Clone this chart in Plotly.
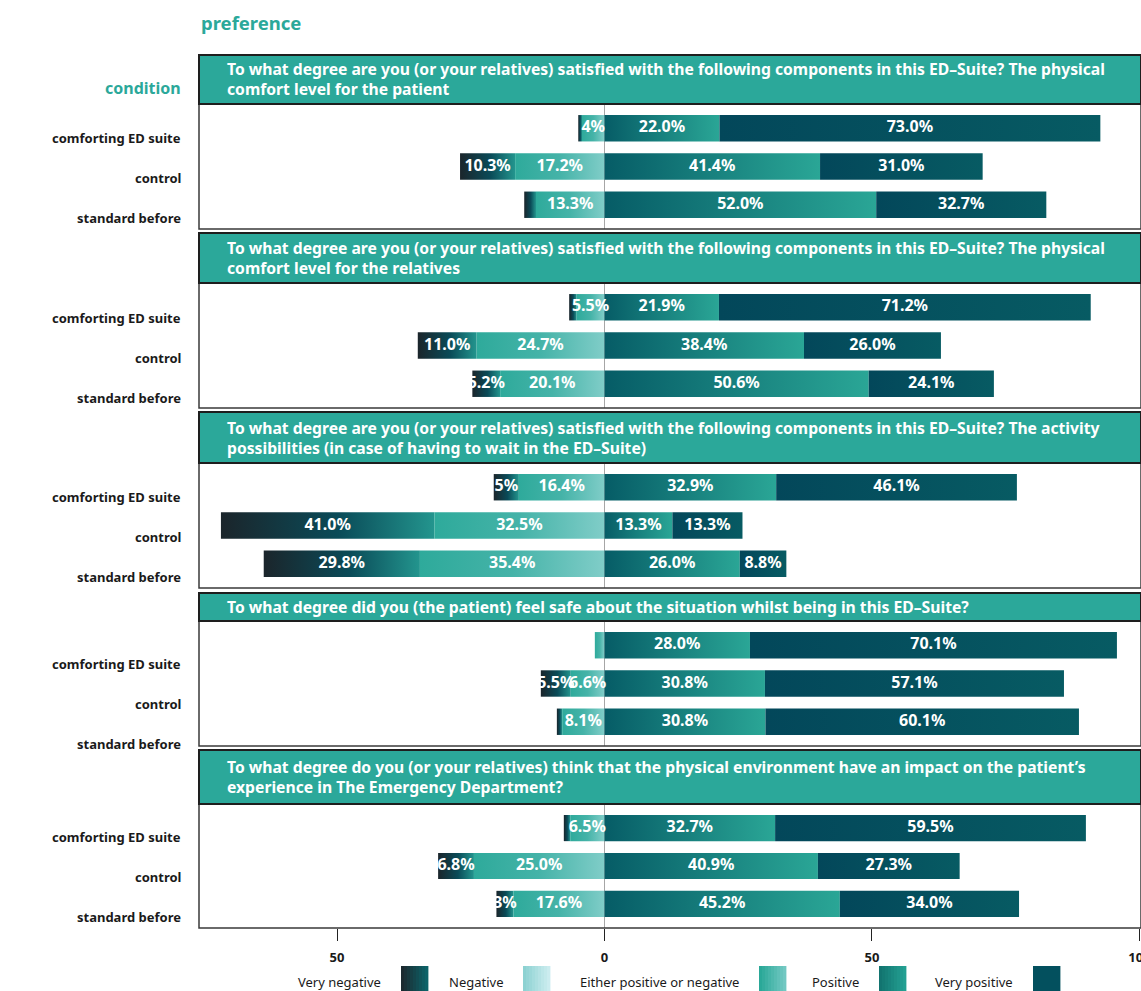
import plotly.graph_objects as go

W, H = 1141, 991
L_MARGIN = 199

# ---------------- data ----------------
categories = ["comforting ED suite", "control", "standard before"]
responses = ["Very negative", "Negative", "Either positive or negative", "Positive", "Very positive"]

questions = [
    "To what degree are you (or your relatives) satisfied with the following components in this ED–Suite? The physical<br>comfort level for the patient",
    "To what degree are you (or your relatives) satisfied with the following components in this ED–Suite? The physical<br>comfort level for the relatives",
    "To what degree are you (or your relatives) satisfied with the following components in this ED–Suite? The activity<br>possibilities (in case of having to wait in the ED–Suite)",
    "To what degree did you (the patient) feel safe about the situation whilst being in this ED–Suite?",
    "To what degree do you (or your relatives) think that the physical environment have an impact on the patient’s<br>experience in The Emergency Department?",
]

# bar lengths per condition (axis units)
q1_very_negative = [0.7, 10.3, 2.2]
q1_negative = [4.2, 16.7, 12.8]
q1_positive = [21.5, 40.3, 50.8]
q1_very_positive = [71.2, 30.4, 31.8]

q2_very_negative = [1.4, 11.0, 5.2]
q2_negative = [5.2, 23.9, 19.5]
q2_positive = [21.4, 37.3, 49.4]
q2_very_positive = [69.5, 25.6, 23.4]

q3_very_negative = [4.7, 39.9, 29.2]
q3_negative = [16.0, 31.8, 34.5]
q3_positive = [32.1, 12.7, 25.3]
q3_very_positive = [45.0, 13.1, 8.7]

q4_very_negative = [0.0, 5.6, 1.0]
q4_negative = [1.8, 6.3, 7.9]
q4_positive = [27.2, 30.0, 30.1]
q4_very_positive = [68.6, 55.9, 58.6]

q5_very_negative = [1.2, 6.7, 3.2]
q5_negative = [6.4, 24.4, 17.0]
q5_positive = [31.9, 39.9, 44.0]
q5_very_positive = [58.1, 26.5, 33.5]

# printed labels per condition: [very negative, negative, positive, very positive]
q1_labels = [["", "4%", "22.0%", "73.0%"], ["10.3%", "17.2%", "41.4%", "31.0%"], ["", "13.3%", "52.0%", "32.7%"]]
q2_labels = [["", "5.5%", "21.9%", "71.2%"], ["11.0%", "24.7%", "38.4%", "26.0%"], ["5.2%", "20.1%", "50.6%", "24.1%"]]
q3_labels = [["5%", "16.4%", "32.9%", "46.1%"], ["41.0%", "32.5%", "13.3%", "13.3%"], ["29.8%", "35.4%", "26.0%", "8.8%"]]
q4_labels = [["", "", "28.0%", "70.1%"], ["5.5%", "6.6%", "30.8%", "57.1%"], ["", "8.1%", "30.8%", "60.1%"]]
q5_labels = [["", "6.5%", "32.7%", "59.5%"], ["6.8%", "25.0%", "40.9%", "27.3%"], ["3%", "17.6%", "45.2%", "34.0%"]]

x_tickvals = [-50, 0, 50, 100]
x_ticktext = ["50", "0", "50", "100"]

panel_data = [
    (q1_very_negative, q1_negative, q1_positive, q1_very_positive, q1_labels),
    (q2_very_negative, q2_negative, q2_positive, q2_very_positive, q2_labels),
    (q3_very_negative, q3_negative, q3_positive, q3_very_positive, q3_labels),
    (q4_very_negative, q4_negative, q4_positive, q4_very_positive, q4_labels),
    (q5_very_negative, q5_negative, q5_positive, q5_very_positive, q5_labels),
]

# ---------------- styling / layout ----------------
TEAL = "#2ba89a"
FONT = "Noto Sans"
seg_scales = [
    [[0, "#1b252b"], [0.55, "#0a4b58"], [1, "#23958e"]],   # very negative
    [[0, "#2eaa9b"], [0.5, "#45b3a8"], [1, "#80cdc8"]],    # negative side
    [[0, "#065c66"], [1, "#2aa696"]],                      # positive
    [[0, "#03475a"], [1, "#075b63"]],                      # very positive
]

headers_px = [(55, 104), (233, 283), (412, 463), (593, 621), (750, 804)]
panels_px = [(104, 229), (283, 408), (463, 588), (621, 746), (804, 928)]
label_offsets = [34, 35, 34, 43, 33]

X_RANGE = [-75.8, 100.3]
Y_RANGE = [2.634, -0.634]
BAR_H = 0.69


def py(p):
    return 1 - p / H


def px(p):
    return (p - L_MARGIN) / (W - L_MARGIN)


fig = go.Figure()
shapes = []
annotations = []

for k, (vn, ng, ps, vp, labels) in enumerate(panel_data):
    xa = "x" if k == 0 else f"x{k+1}"
    ya = "y" if k == 0 else f"y{k+1}"
    tx, ty, tt = [], [], []
    for i in range(len(categories)):
        bounds = [-(vn[i] + ng[i]), -ng[i], 0, ps[i], ps[i] + vp[i]]
        for s in range(4):
            x0, x1 = bounds[s], bounds[s + 1]
            if x1 - x0 <= 0:
                continue
            y0, y1 = i - BAR_H / 2, i + BAR_H / 2
            fig.add_trace(go.Scatter(
                x=[x0, x1, x1, x0, x0], y=[y0, y0, y1, y1, y0],
                mode="lines", fill="toself", line=dict(width=0),
                fillcolor=seg_scales[s][-1][1],
                fillgradient=dict(type="horizontal", colorscale=seg_scales[s]),
                xaxis=xa, yaxis=ya, hoverinfo="skip", showlegend=False,
            ))
            if labels[i][s]:
                tx.append((x0 + x1) / 2)
                ty.append(i)
                tt.append(labels[i][s])
    fig.add_trace(go.Scatter(
        x=tx, y=ty, text=tt, mode="text",
        textfont=dict(family=FONT, size=16, color="white", weight="bold"),
        xaxis=xa, yaxis=ya, hoverinfo="skip", showlegend=False,
    ))

    top, bot = panels_px[k]
    htop, hbot = headers_px[k]
    last = k == len(panel_data) - 1
    xaxis_cfg = dict(
        domain=[0, 1], range=X_RANGE, anchor=ya, showgrid=False,
        zeroline=True, zerolinecolor="#a6a6a6", zerolinewidth=1,
        showline=False, fixedrange=True, automargin=False,
    )
    if last:
        xaxis_cfg.update(
            tickvals=x_tickvals, ticktext=x_ticktext, ticks="outside",
            ticklen=12, tickwidth=1.3, tickcolor="#222",
            tickfont=dict(family=FONT, size=13, color="#1a1a1a", weight="bold"),
            ticklabelstandoff=5, ticklabeloverflow="allow",
        )
    else:
        xaxis_cfg.update(showticklabels=False, ticks="")
    if k > 0:
        xaxis_cfg["matches"] = "x"
    yaxis_cfg = dict(
        domain=[py(bot), py(top)], range=Y_RANGE, anchor=xa,
        showgrid=False, zeroline=False, showticklabels=False, ticks="",
        showline=False, fixedrange=True, automargin=False,
    )
    key = "" if k == 0 else str(k + 1)
    fig.update_layout(**{f"xaxis{key}": xaxis_cfg, f"yaxis{key}": yaxis_cfg})

    # panel border
    shapes.append(dict(type="rect", xref="paper", yref="paper",
                       x0=0, x1=1, y0=py(bot), y1=py(top),
                       line=dict(color="#3a3a3a", width=1.5), fillcolor="rgba(0,0,0,0)", layer="above"))
    # header strip
    shapes.append(dict(type="rect", xref="paper", yref="paper",
                       x0=0, x1=1, y0=py(hbot), y1=py(htop),
                       line=dict(color="#1e1e1e", width=2), fillcolor=TEAL, layer="above"))
    annotations.append(dict(
        text=questions[k], xref="paper", yref="paper",
        x=px(225), y=py((htop + hbot) / 2), xanchor="left", yanchor="middle",
        align="left", showarrow=False,
        font=dict(family=FONT, size=15.7, color="white", weight="bold"),
    ))
    for i, cat in enumerate(categories):
        annotations.append(dict(
            text=cat, xref="paper", yref="paper",
            x=px(183), y=py(top + label_offsets[k] + 40 * i),
            xanchor="right", yanchor="middle", showarrow=False,
            font=dict(family=FONT, size=13, color="#1a1a1a", weight="bold"),
        ))

# titles
annotations.append(dict(text="preference", xref="paper", yref="paper",
                        x=0, y=py(22), xanchor="left", yanchor="middle", showarrow=False,
                        font=dict(family=FONT, size=18.5, color=TEAL, weight="bold")))
annotations.append(dict(text="condition", xref="paper", yref="paper",
                        x=px(183), y=py(88), xanchor="right", yanchor="middle", showarrow=False,
                        font=dict(family=FONT, size=16, color=TEAL, weight="bold")))


# legend (manual, label left of swatch)
def hex2rgb(h):
    h = h.lstrip("#")
    return [int(h[j:j + 2], 16) for j in (0, 2, 4)]


def lerp(c1, c2, t):
    a, b = hex2rgb(c1), hex2rgb(c2)
    return "rgb(%d,%d,%d)" % tuple(round(a[j] + (b[j] - a[j]) * t) for j in range(3))


legend_swatches = [
    ("#1c2a30", "#0c6268"),
    ("#8dd2d2", "#cbecef"),
    ("#2aa898", "#72c8c2"),
    ("#127470", "#23a092"),
    ("#03505e", "#03505e"),
]
legend_left_px = [401, 523, 759, 879, 1033]
SW_W = 27
for (c1, c2), lx, name in zip(legend_swatches, legend_left_px, responses):
    n = 9
    for j in range(n):
        shapes.append(dict(type="rect", xref="paper", yref="paper",
                           x0=px(lx + SW_W * j / n), x1=px(lx + SW_W * (j + 1) / n + 0.4),
                           y0=py(992), y1=py(966),
                           line=dict(width=0), fillcolor=lerp(c1, c2, j / (n - 1))))
    annotations.append(dict(text=name, xref="paper", yref="paper",
                            x=px(lx - 18), y=py(982), xanchor="right", yanchor="middle",
                            showarrow=False,
                            font=dict(family=FONT, size=13, color="#1a1a1a")))

fig.update_layout(
    width=W, height=H,
    margin=dict(l=L_MARGIN, r=0, t=0, b=0, autoexpand=False),
    paper_bgcolor="white", plot_bgcolor="white",
    shapes=shapes, annotations=annotations, showlegend=False,
)

fig.write_html(
    "out.html",
    config={"displayModeBar": False},
    post_script="document.body.style.margin='0';document.body.style.overflow='hidden';",
)
